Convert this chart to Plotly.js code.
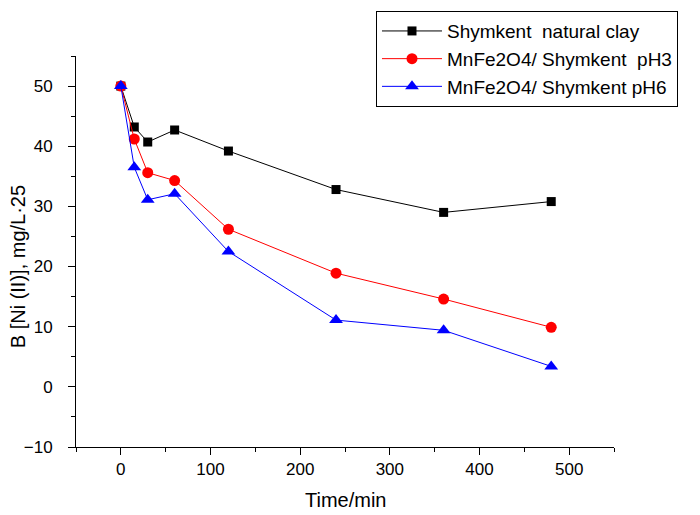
<!DOCTYPE html>
<html><head><meta charset="utf-8">
<script src="https://cdn.plot.ly/plotly-3.0.1.min.js"></script>
<style>body{margin:0;background:#fff}#c{width:700px;height:515px}</style>
</head><body><div id="c"></div>
<script>
const time = [0, 15, 30, 60, 120, 240, 360, 480];
const naturalClay = [50, 43.2, 40.7, 42.7, 39.2, 32.8, 29.0, 30.8];
const pH3 = [50, 41.2, 35.6, 34.3, 26.2, 18.9, 14.6, 9.9];
const pH6 = [50, 36.5, 31.1, 32.1, 22.5, 11.1, 9.4, 3.4];
const names = ["Shymkent  natural clay", "MnFe2O4/ Shymkent  pH3", "MnFe2O4/ Shymkent pH6"];
const xTitle = 'Time/min';
const yTitle = 'B [Ni (II)], mg/L·25';

const traces = [
  {x: time, y: naturalClay, name: names[0], mode: 'lines+markers',
   line: {color: '#000000', width: 1}, marker: {symbol: 'square', size: 9, color: '#000000'}},
  {x: time, y: pH3, name: names[1], mode: 'lines+markers',
   line: {color: '#ff0000', width: 1}, marker: {symbol: 'circle', size: 11, color: '#ff0000'}},
  {x: time, y: pH6, name: names[2], mode: 'lines+markers',
   line: {color: '#0000ff', width: 1}, marker: {symbol: 'triangle-up', size: 12, color: '#0000ff'}}
];

const font = 'Arial, "Liberation Sans", sans-serif';
const layout = {
  width: 700, height: 515,
  margin: {l: 76, r: 86, t: 55, b: 68},
  paper_bgcolor: '#fff', plot_bgcolor: '#fff',
  font: {family: font, color: '#000', size: 17},
  showlegend: true,
  legend: {x: 0.5576, y: 1.112, xanchor: 'left', yanchor: 'top',
    bordercolor: '#000', borderwidth: 1, bgcolor: '#fff',
    font: {size: 19, family: font}, tracegroupgap: 0, itemwidth: 60},
  xaxis: {range: [-50, 550], showgrid: false, zeroline: false,
    showline: true, linecolor: '#000', linewidth: 1,
    ticks: 'outside', ticklen: 7, tickcolor: '#000', dtick: 100, tick0: 0,
    minor: {dtick: 50, tick0: 0, ticks: 'outside', ticklen: 4, tickcolor: '#000'},
    tickfont: {size: 17, family: font}},
  yaxis: {range: [-10, 55], showgrid: false, zeroline: false,
    showline: true, linecolor: '#000', linewidth: 1,
    ticks: 'outside', ticklen: 7, tickcolor: '#000', dtick: 10, tick0: 0,
    minor: {dtick: 5, tick0: 0, ticks: 'outside', ticklen: 4, tickcolor: '#000'},
    tickfont: {size: 17, family: font}, ticklabelstandoff: 12},
  annotations: [
    {text: xTitle, xref: 'paper', yref: 'paper', x: 0.5, y: -0.135,
     xanchor: 'center', yanchor: 'middle', showarrow: false, font: {size: 20, family: font}},
    {text: yTitle, xref: 'paper', yref: 'paper', x: -0.108, y: 0.462, textangle: -90,
     xanchor: 'center', yanchor: 'middle', showarrow: false, font: {size: 20, family: font}}
  ]
};
Plotly.newPlot('c', traces, layout, {displayModeBar: false});
</script></body></html>
